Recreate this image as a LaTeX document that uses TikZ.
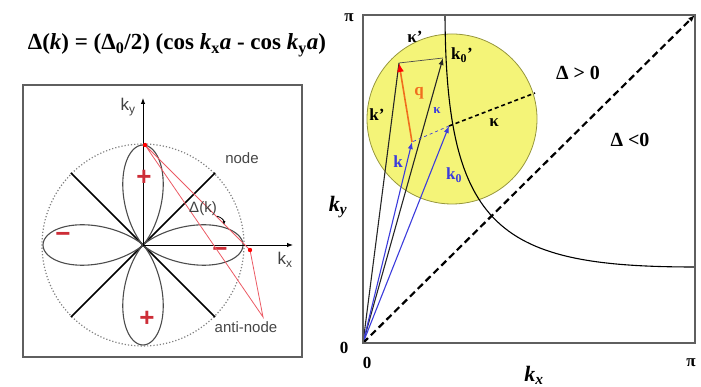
\documentclass[tikz,border=0pt]{standalone}
\usepackage{fontspec}
\setmainfont{Liberation Serif}
\setsansfont{Liberation Sans}
\usetikzlibrary{arrows.meta,calc}
\definecolor{FillYellow}{RGB}{244,244,120}
\definecolor{RimOlive}{RGB}{150,150,60}
\definecolor{VecBlue}{RGB}{60,60,220}
\definecolor{SignRed}{RGB}{205,45,55}
\definecolor{LineRed}{RGB}{235,90,100}
\definecolor{QOrange}{RGB}{240,110,30}
\definecolor{FrameGray}{RGB}{95,95,95}

\begin{document}
\begin{tikzpicture}[x=1pt,y=1pt,
  lbl/.style={font=\bfseries\fontsize{17}{19}\selectfont, inner sep=0pt},
  tag/.style={font=\sffamily\fontsize{15}{17}\selectfont, text=gray!55!black, inner sep=0pt},
  sign/.style={font=\sffamily\bfseries\fontsize{26}{28}\selectfont, text=SignRed, inner sep=0pt},
  vec/.style={line width=1.1pt}]
  \useasboundingbox (0,0) rectangle (701,387);

  % gap formula
  \node[font=\bfseries\fontsize{23}{26}\selectfont, inner sep=0pt] (gap) at (177,342)
    {Δ(\textit{k}) = (Δ\textsubscript{0}/2) (cos \textit{k}\textsubscript{x}\textit{a} - cos \textit{k}\textsubscript{y}\textit{a})};

  % left panel: d-wave lobes
  \draw[line width=2.2pt, FrameGray] (23,30) rectangle (302,302);
  \coordinate (O) at (143,142);
  \draw[gray, dotted, line width=1.2pt] (O) circle (101);
  \foreach \a/\b [count=\i] in {45/225, 135/315}
    \draw[line width=1.6pt] ($(O)+(\a:102)$) coordinate (n\i a) -- ($(O)+(\b:102)$) coordinate (n\i b);
  \begin{scope}[shift={(O)}]
    \draw[line width=1.1pt, black!70] plot[domain=0:360, samples=241, smooth]
      (\x:{100*cos(2*\x)*cos(2*\x)});
  \end{scope}
  \coordinate (kyEnd) at (143,289);
  \coordinate (kxEnd) at (293,142);
  \draw[line width=0.9pt, -{Latex[length=6pt]}] (O) -- (kyEnd);
  \draw[line width=0.9pt, -{Latex[length=6pt]}] (O) -- (kxEnd);
  \node[tag, text=black!75, font=\sffamily\fontsize{17}{19}\selectfont] (ky) at (128,280) {k\textsubscript{y}};
  \node[tag, text=black!75, font=\sffamily\fontsize{17}{19}\selectfont] (kx) at (285,127) {k\textsubscript{x}};
  \node[sign] (pTop) at (144,209) {+};
  \node[sign] (pBot) at (147,68) {+};
  \node[sign] (mLeft) at (63,150) {−};
  \node[sign] (mRight) at (220,135) {−};
  % anti-node triangle
  \coordinate (A) at (145,242);
  \coordinate (B) at (250,137);
  \coordinate (C) at (263,70);
  \draw[LineRed, line width=0.8pt] (A) -- (C) -- (B) -- cycle;
  \fill[red] (A) circle (2.2) (B) circle (2.2);
  \node[tag] (nodeLbl) at (242,229) {node};
  \node[tag] (antiLbl) at (246,60) {anti-node};
  \node[tag, text=black!75] (dk) at (203,178) {Δ(k)};
  \coordinate (lobePt) at (224,162);
  \draw[line width=0.8pt, -{Latex[length=4pt]}] (dk.south east) to[bend left=40] (lobePt);

  % right panel: Brillouin-zone octant
  \coordinate (O2) at (363,44);
  \coordinate (TR) at (695,372);
  \coordinate (ctr) at (452,268);
  \filldraw[fill=FillYellow, draw=RimOlive, line width=0.8pt] (ctr) circle (85);
  \coordinate (fsTop) at (445,372);
  \coordinate (fsEnd) at (695,120);
  \draw[line width=1.1pt] (fsTop) .. controls (446,157) and (500,120) .. (fsEnd);
  \coordinate (K0) at (449,261);
  \coordinate (K) at (412,245);
  \coordinate (Kp) at (399,324);
  \coordinate (K0p) at (443,329);
  \coordinate (rim) at (535,294);
  \draw[line width=1.6pt, dash pattern=on 4pt off 3pt] (K0) -- (rim);
  \draw[vec, black!85] (O2) -- (Kp);
  \draw[vec, black!85, -{Latex[length=7pt]}] (O2) -- (K0p);
  \draw[line width=0.7pt, black!70] (Kp) -- (K0p);
  \draw[VecBlue, line width=0.7pt, dashed] (K0) -- (K);
  \draw[vec, VecBlue, -{Latex[length=7pt]}] (O2) -- (K);
  \draw[vec, VecBlue, -{Latex[length=7pt]}] (O2) -- (K0);
  \draw[line width=1.6pt, QOrange, -{Latex[length=9pt, width=7pt, fill=red, color=red]}] (K) -- (Kp);
  \draw[line width=2.2pt, dash pattern=on 7pt off 4pt, -{Latex[length=7pt]}] (O2) -- (TR);
  \draw[line width=1.6pt, FrameGray] (O2) rectangle (TR);

  \node[lbl] (kapP) at (415,350) {κ'};
  \node[lbl] (k0pLbl) at (462,332) {k\textsubscript{0}'};
  \node[lbl] (kpLbl) at (377,272) {k'};
  \node[lbl, text=QOrange] (qLbl) at (419,294) {q};
  \node[lbl] (kapLbl) at (494,264) {κ};
  \node[lbl, text=VecBlue, font=\bfseries\fontsize{13}{15}\selectfont] (kapB) at (437,276) {κ};
  \node[lbl, text=VecBlue] (kLbl) at (398,225) {k};
  \node[lbl, text=VecBlue] (k0Lbl) at (454,212) {k\textsubscript{0}};
  \node[font=\bfseries\fontsize{20}{22}\selectfont, inner sep=0pt] (pos) at (578,314) {Δ > 0};
  \node[font=\bfseries\fontsize{20}{22}\selectfont, inner sep=0pt] (neg) at (630,247) {Δ <0};
  \node[font=\bfseries\fontsize{17}{19}\selectfont, inner sep=0pt] (piT) at (349,369) {π};
  \node[font=\bfseries\fontsize{17}{19}\selectfont, inner sep=0pt] (piR) at (691,24) {π};
  \node[font=\bfseries\fontsize{17}{19}\selectfont, inner sep=0pt] (zL) at (344,39) {0};
  \node[font=\bfseries\fontsize{17}{19}\selectfont, inner sep=0pt] (zB) at (367,24) {0};
  \node[font=\bfseries\fontsize{22}{24}\selectfont, inner sep=0pt] (kyR) at (338,180) {\textit{k}\textsubscript{\textit{y}}};
  \node[font=\bfseries\fontsize{22}{24}\selectfont, inner sep=0pt] (kxR) at (534,12) {\textit{k}\textsubscript{\textit{x}}};
\end{tikzpicture}
\end{document}
